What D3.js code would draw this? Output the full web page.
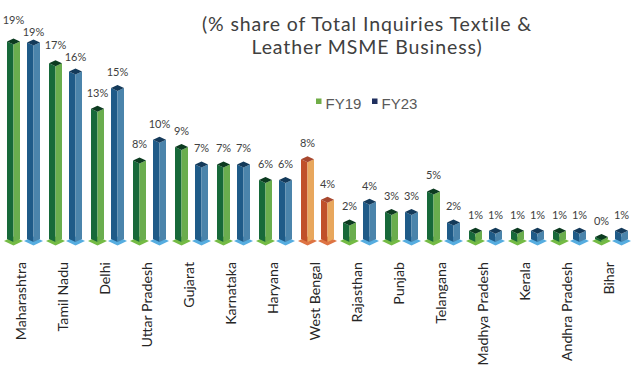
<!DOCTYPE html>
<html>
<head>
<meta charset="utf-8">
<script src="https://cdn.jsdelivr.net/npm/d3@7"></script>
<style>
  html, body { margin: 0; padding: 0; background: #ffffff; }
  svg { display: block; }
</style>
</head>
<body>
<svg id="chart" width="631" height="369"></svg>
<script>
// States, in display order
const states = ["Maharashtra", "Tamil Nadu", "Delhi", "Uttar Pradesh", "Gujarat", "Karnataka",
  "Haryana", "West Bengal", "Rajasthan", "Punjab", "Telangana", "Madhya Pradesh", "Kerala",
  "Andhra Pradesh", "Bihar"];

// Share of total inquiries (%) per state
const fy19 = [19.1, 17.0, 12.6, 7.6, 8.9, 7.2, 5.7, 7.7, 1.6, 2.6, 4.6, 0.8, 0.8, 0.8, 0.2];
const fy23 = [19.0, 16.2, 14.6, 9.6, 7.2, 7.2, 5.7, 3.8, 3.6, 2.6, 1.6, 0.8, 0.8, 0.8, 0.8];

const seriesNames = ["FY19", "FY23"];
const highlightState = "West Bengal";

const titleLines = ["(% share of Total Inquiries Textile &", "Leather MSME Business)"];

// Face colours: left (shaded), right (lit), top cap, floor plate
const palette = {
  FY19: { left: "#17693a", right: "#6aad4e", top: "#0c3b20", floor: "#74bb45", legend: "#70ad47" },
  FY23: { left: "#1f5b88", right: "#4b84ab", top: "#143a5a", floor: "#56ade0", legend: "#1f2f5e" },
  hi:   { left: "#c0502a", right: "#e8a75d", top: "#a8482e", floor: "#de7443" }
};

const svg = d3.select("#chart");

const x = d3.scaleBand().domain(states).range([2.5, 632.5]).padding(0);
const xs = d3.scalePoint().domain(seriesNames).range([0, x.bandwidth()]).padding(0.55);
const y = d3.scaleLinear().domain([0, 19]).range([236, 39.5]);

const hw = 6.5;     // half width of a column
const dz = 3;       // half height of the top diamond
const yBase = y(0); // cap-top position for a zero value

const rows = [];
states.forEach((s, i) => {
  [fy19[i], fy23[i]].forEach((v, k) => {
    const name = seriesNames[k];
    rows.push({ state: s, series: name, value: v,
      cx: x(s) + xs(name),
      col: s === highlightState ? palette.hi : palette[name] });
  });
});

const bars = svg.append("g").attr("class", "bars");

rows.forEach(d => {
  const g = bars.append("g");
  const cx = d.cx, yt = y(d.value), B = yBase + 2 * dz;
  // floor plate
  g.append("polygon")
    .attr("points", [[cx - hw - 3, B - 1], [cx, B - 5.5], [cx + hw + 3, B - 1], [cx, B + 3.5]].join(" "))
    .attr("fill", d.col.floor);
  // left face
  g.append("polygon")
    .attr("points", [[cx - hw, yt + dz], [cx, yt + 2 * dz], [cx, B], [cx - hw, B - dz]].join(" "))
    .attr("fill", d.col.left);
  // right face
  g.append("polygon")
    .attr("points", [[cx, yt + 2 * dz], [cx + hw, yt + dz], [cx + hw, B - dz], [cx, B]].join(" "))
    .attr("fill", d.col.right);
  // top cap
  g.append("polygon")
    .attr("points", [[cx, yt], [cx + hw, yt + dz], [cx, yt + 2 * dz], [cx - hw, yt + dz]].join(" "))
    .attr("fill", d.col.top);
});

// Value labels
const fmt = v => d3.format(".0f")(v) + "%";
const labels = svg.append("g").attr("class", "values")
  .attr("font-family", "Lato, 'Open Sans', sans-serif")
  .attr("font-size", 11)
  .attr("fill", "#404040")
  .attr("text-anchor", "middle");

const lab = rows.map(d => {
  const t = labels.append("text").attr("x", d.cx).text(fmt(d.value));
  return { d, t, w: t.node().getComputedTextLength(), yc: y(d.value) - 13 };
});

// keep the two labels of a state from colliding
for (let i = 0; i < lab.length; i += 2) {
  const a = lab[i], b = lab[i + 1];
  const hGap = (b.d.cx - b.w / 2) - (a.d.cx + a.w / 2);
  const minSep = 12;
  if (hGap < 1 && Math.abs(a.yc - b.yc) < minSep) {
    const mid = (a.yc + b.yc) / 2;
    const upper = b.yc <= a.yc ? b : a, lower = upper === b ? a : b;
    upper.yc = mid - minSep / 2;
    lower.yc = mid + minSep / 2;
  }
}
lab.forEach(l => l.t.attr("y", l.yc).attr("dy", "0.35em"));

// Category labels
svg.append("g").attr("class", "categories")
  .selectAll("text").data(states).join("text")
  .attr("transform", s => `translate(${x(s) + x.bandwidth() / 2 - 2.3},262) rotate(-90)`)
  .attr("text-anchor", "end")
  .attr("dy", "0.35em")
  .attr("font-family", "Lato, 'Open Sans', sans-serif")
  .attr("font-size", 14.2)
  .attr("fill", "#262626")
  .text(s => s);

// Title
svg.append("g").attr("class", "title")
  .attr("font-family", "Lato, 'Open Sans', sans-serif")
  .attr("font-size", 19.5)
  .attr("letter-spacing", 0.9)
  .attr("fill", "#404040")
  .attr("text-anchor", "middle")
  .selectAll("text").data(titleLines).join("text")
  .attr("x", 367)
  .attr("y", (d, i) => 30.5 + i * 23.8)
  .text(d => d);

// Legend
const legend = svg.append("g").attr("class", "legend")
  .attr("font-family", "'Liberation Sans', Arial, sans-serif")
  .attr("font-size", 15)
  .attr("fill", "#595959");
const legendX = [316, 372];
seriesNames.forEach((n, i) => {
  legend.append("rect").attr("x", legendX[i]).attr("y", 98.5).attr("width", 5.5).attr("height", 5.5)
    .attr("fill", palette[n].legend);
  legend.append("text").attr("x", legendX[i] + 9.5).attr("y", 109).text(n);
});
</script>
</body>
</html>
